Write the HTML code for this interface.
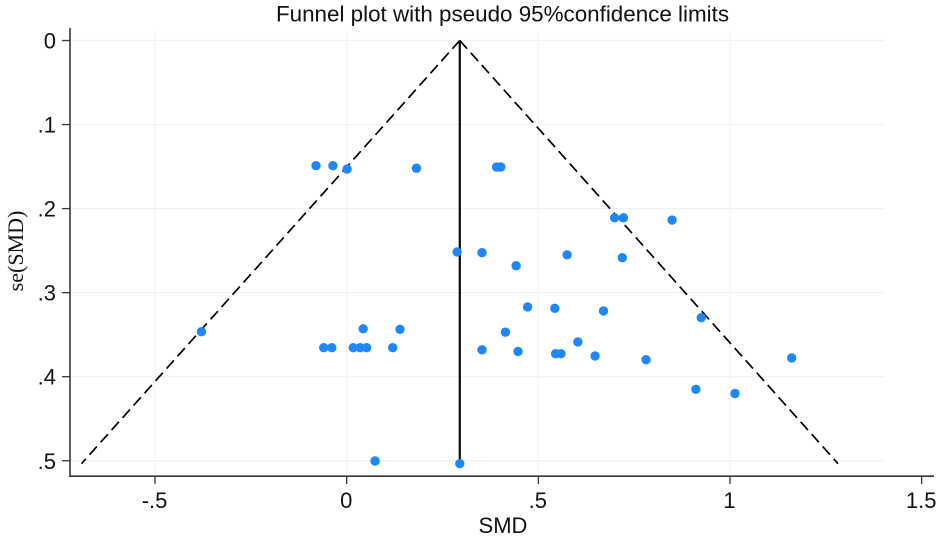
<!DOCTYPE html>
<html lang="en">
<head>
<meta charset="utf-8">
<title>Funnel plot</title>
<style>
html,body{margin:0;padding:0;background:#fff;width:945px;height:540px;overflow:hidden}
svg{display:block}
text{font-family:"Liberation Sans",Arial,sans-serif;fill:#111}
</style>
</head>
<body>
<svg id="chart" width="945" height="540" viewBox="0 0 945 540" xmlns="http://www.w3.org/2000/svg"></svg>
<script>
const xTicks = [-0.5, 0, 0.5, 1, 1.5];
const xTickLabels = ['-.5', '0', '.5', '1', '1.5'];
const yTicks = [0, 0.1, 0.2, 0.3, 0.4, 0.5];
const yTickLabels = ['0', '.1', '.2', '.3', '.4', '.5'];
const pooledEffect = [0.295];
const maxSe = [0.5035];
const zCritical = [1.96];
const smdValues = [-0.080,-0.036,0.001,0.182,0.391,0.402,0.699,0.722,0.849,0.353,0.575,0.719,0.442,0.288,-0.379,-0.060,-0.039,0.017,0.035,0.052,0.120,0.043,0.139,0.074,0.295,0.472,0.543,0.670,0.925,0.414,0.603,0.353,0.447,0.545,0.559,0.648,0.781,1.161,0.911,1.013];
const seValues = [0.149,0.149,0.153,0.152,0.1505,0.1505,0.211,0.211,0.2136,0.2525,0.255,0.2584,0.268,0.2516,0.3465,0.3655,0.3655,0.3655,0.3655,0.3655,0.3655,0.343,0.3436,0.5003,0.5035,0.317,0.3186,0.3218,0.3298,0.347,0.3587,0.368,0.370,0.3726,0.3726,0.3753,0.3798,0.3777,0.415,0.420];

const svgNS = 'http://www.w3.org/2000/svg';
const svg = document.getElementById('chart');
const xScale = v => 346.7 + v * 383.3;
const yScale = v => 40.5 + v * 840.5;

function add(tag, attrs, parent, text) {
  const el = document.createElementNS(svgNS, tag);
  for (const k in attrs) el.setAttribute(k, attrs[k]);
  if (text !== undefined) el.textContent = text;
  (parent || svg).appendChild(el);
  return el;
}

// background
const bg = add('rect', {x:0, y:0, width:945, height:540, fill:'#fff'});



// gridlines
yTicks.forEach(t => {
  const g = add('line', {x1:72, x2:885, y1:yScale(t), y2:yScale(t), stroke:'#f1f1f1', 'stroke-width':1.2});
  
  
});
xTicks.slice(0, 4).forEach(t => {
  const g = add('line', {x1:xScale(t), x2:xScale(t), y1:30, y2:474, stroke:'#f4f4f4', 'stroke-width':1.2});
  
  
});

// funnel limits
const apexX = xScale(pooledEffect[0]);
const apexY = yScale(0);
const botY = yScale(maxSe[0]);
const leftX = xScale(pooledEffect[0] - zCritical[0] * maxSe[0]);
const rightX = xScale(pooledEffect[0] + zCritical[0] * maxSe[0]);
const lowerLine = add('line', {x1:apexX, y1:apexY, x2:leftX, y2:botY, stroke:'#000', 'stroke-width':1.7, 'stroke-dasharray':'11 5.5'});


const upperLine = add('line', {x1:apexX, y1:apexY, x2:rightX, y2:botY, stroke:'#000', 'stroke-width':1.7, 'stroke-dasharray':'11 5.5'});


const meanLine = add('line', {x1:apexX, y1:apexY, x2:apexX, y2:botY, stroke:'#0a0a0a', 'stroke-width':2.2});



// points
smdValues.forEach((v, i) => {
  const c = add('circle', {cx:xScale(v), cy:yScale(seValues[i]), r:4.7, fill:'#1e88fb'});
  
  
});

// axes
const yAxis = add('line', {x1:70, x2:70, y1:28, y2:477, stroke:'#3a3436', 'stroke-width':1.6});


const xAxis = add('line', {x1:69.2, x2:934, y1:476.2, y2:476.2, stroke:'#3a3436', 'stroke-width':1.6});



yTicks.forEach((t, i) => {
  const tick = add('line', {x1:62, x2:70, y1:yScale(t), y2:yScale(t), stroke:'#3a3436', 'stroke-width':1.3});
  
  
  const lab = add('text', {x:56, y:yScale(t) + 8, 'text-anchor':'end', 'font-size':22}, svg, yTickLabels[i]);
  
  
});
xTicks.forEach((t, i) => {
  const tick = add('line', {x1:xScale(t), x2:xScale(t), y1:476, y2:484, stroke:'#3a3436', 'stroke-width':1.3});
  
  
  const lab = add('text', {x:xScale(t) - 0.5, y:508, 'text-anchor':'middle', 'font-size':22}, svg, xTickLabels[i]);
  
  
});

// titles
const title = add('text', {x:502.5, y:21.5, 'text-anchor':'middle', 'font-size':22.4}, svg, 'Funnel plot with pseudo 95%confidence limits');


const xTitle = add('text', {x:503, y:533, 'text-anchor':'middle', 'font-size':22}, svg, 'SMD');


const yTitle = add('text', {transform:'translate(23 251) rotate(-90)', 'text-anchor':'middle', 'font-size':22, style:'font-family:"Liberation Serif",serif'}, svg, 'se(SMD)');


</script>
</body>
</html>
